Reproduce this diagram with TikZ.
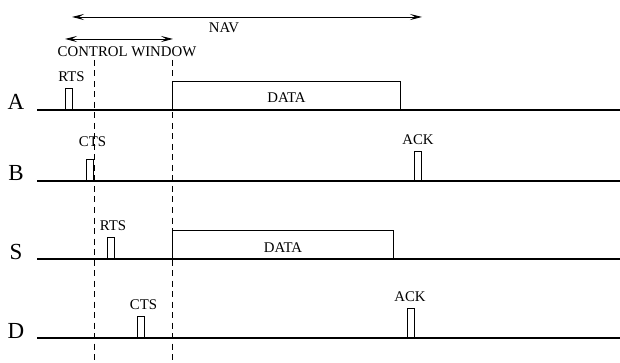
\documentclass[tikz,border=0pt]{standalone}
\usepackage{fontspec}
\setmainfont{Liberation Serif}
\usetikzlibrary{positioning,arrows.meta}
\tikzset{
  >={Stealth[length=12pt,width=6pt,inset=5pt]},
  station/.style={font=\fontsize{23}{24}\selectfont, inner sep=0pt, anchor=base},
  tag/.style={font=\fontsize{14.8}{16}\selectfont, inner sep=1pt},
  pulse/.style={draw, line width=1pt, minimum width=7pt, minimum height=21pt,
    inner sep=0pt, anchor=south west},
  ackpulse/.style={pulse, minimum height=29pt},
  frame/.style={draw, line width=1pt, minimum height=28pt, inner sep=0pt,
    anchor=south west, font=\fontsize{14.8}{16}\selectfont,
    text height=15pt, text depth=0pt},
  timeline/.style={line width=1.5pt},
  window/.style={dash pattern=on 6pt off 4.5pt, line width=0.9pt},
}
\begin{document}
\begin{tikzpicture}[x=1pt, y=-1pt]
  \useasboundingbox (0,0) rectangle (620,363);
  % stations
  \node[station] (staA) at (16,110) {A};
  \node[station] (staB) at (16,181) {B};
  \node[station] (staS) at (16,259) {S};
  \node[station] (staD) at (16,338) {D};
  % A
  \node[pulse] (rtsA) at (65,110) {};
  \node[tag, above=5pt of rtsA, xshift=2.5pt] (rtsAtag) {RTS};
  \node[frame, minimum width=228pt] (dataA) at (172,110) {DATA};
  % B
  \node[pulse] (ctsB) at (86,181) {};
  \node[tag, above=11pt of ctsB, xshift=2.5pt] (ctsBtag) {CTS};
  \node[ackpulse] (ackB) at (414,181) {};
  \node[tag, above=5pt of ackB] (ackBtag) {ACK};
  % S
  \node[pulse] (rtsS) at (107,259) {};
  \node[tag, above=5pt of rtsS, xshift=2pt] (rtsStag) {RTS};
  \node[frame, minimum width=221pt] (dataS) at (172,259) {DATA};
  % D
  \node[pulse] (ctsD) at (137,338) {};
  \node[tag, above=5pt of ctsD, xshift=2.5pt] (ctsDtag) {CTS};
  \node[ackpulse] (ackD) at (407,338) {};
  \node[tag, above=5pt of ackD, xshift=-1pt] (ackDtag) {ACK};
  % time lines
  \foreach \y in {110,181,259,338}
    \draw[timeline] (37,\y) -- (620,\y);
  % control window
  \coordinate (cwL) at (94,60);
  \coordinate (cwR) at (172,60);
  \draw[window] (cwL) -- (94,363);
  \draw[window] (cwR) -- (172,363);
  \coordinate (cwA) at (65,39);
  \coordinate (cwB) at (173,39);
  \draw[<->, line width=0.9pt] (cwA) -- (cwB);
  \node[tag] (cwtag) at (127,52) {CONTROL WINDOW};
  % NAV
  \coordinate (navA) at (72,17);
  \coordinate (navB) at (422,17);
  \draw[<->, line width=0.9pt] (navA) -- (navB);
  \node[tag] (navtag) at (224,28) {NAV};
\end{tikzpicture}
\end{document}
